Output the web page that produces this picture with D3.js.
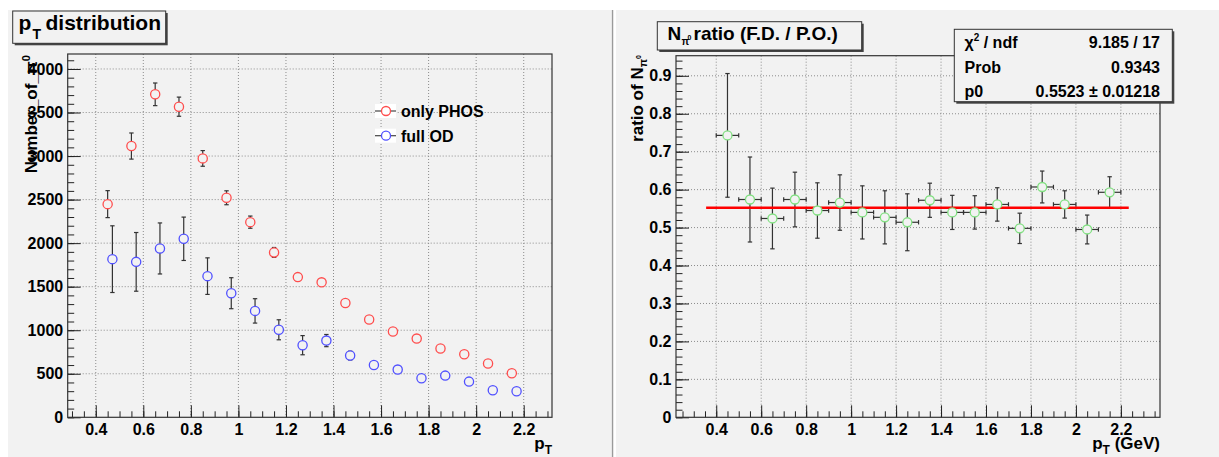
<!DOCTYPE html>
<html>
<head>
<meta charset="utf-8">
<script src="https://cdn.jsdelivr.net/npm/d3@7.9.0/dist/d3.min.js"></script>
<style>
  body { margin: 0; background: #fff; }
  svg { display: block; font-family: "Liberation Sans", Arial, Helvetica, sans-serif; font-weight: bold; }
</style>
</head>
<body>
<svg id="chart" width="1219" height="457"></svg>
<script>
// pT bin centres (GeV), 0.1 wide bins from 0.4 to 2.2
const pT = [0.45, 0.55, 0.65, 0.75, 0.85, 0.95, 1.05, 1.15, 1.25, 1.35, 1.45, 1.55, 1.65, 1.75, 1.85, 1.95, 2.05, 2.15];
// full OD graph is drawn slightly shifted to the right
const pTShifted = [0.47, 0.57, 0.67, 0.77, 0.87, 0.97, 1.07, 1.17, 1.27, 1.37, 1.47, 1.57, 1.67, 1.77, 1.87, 1.97, 2.07, 2.17];
const binHalfWidth = 0.05;

// left pad: number of pi0
const onlyPhos    = [2448, 3115, 3709, 3567, 2973, 2521, 2241, 1893, 1610, 1550, 1312, 1123, 985, 904, 790, 724, 617, 506];
const onlyPhosErr = [155, 150, 130, 110, 90, 80, 70, 57, 40, 35, 30, 28, 25, 24, 22, 20, 18, 16];
const fullOD      = [1816, 1785, 1939, 2050, 1621, 1425, 1222, 1005, 828, 881, 709, 601, 548, 448, 479, 410, 310, 299];
const fullODErr   = [383, 337, 293, 249, 210, 178, 140, 115, 110, 70, 50, 35, 25, 20, 20, 18, 15, 15];

// right pad: ratio F.D. / P.O.
const ratio    = [0.743, 0.574, 0.524, 0.574, 0.545, 0.566, 0.540, 0.527, 0.514, 0.572, 0.540, 0.540, 0.561, 0.498, 0.607, 0.561, 0.495, 0.593];
const ratioErr = [0.163, 0.112, 0.080, 0.072, 0.073, 0.073, 0.070, 0.070, 0.075, 0.045, 0.045, 0.044, 0.044, 0.040, 0.042, 0.036, 0.038, 0.041];

// constant fit
const fitP0 = 0.5523;
const fitRange = [0.355, 2.235];
const statsRows = [
  { name: 'χ', sup: '2', rest: ' / ndf', value: '9.185 / 17' },
  { name: 'Prob', value: '0.9343' },
  { name: 'p0', value: '0.5523 ± 0.01218' }
];

const legendItems = [
  { label: 'only PHOS', color: '#ff4d4d' },
  { label: 'full OD', color: '#5050ff' }
];

const xMajor = [0.4, 0.6, 0.8, 1, 1.2, 1.4, 1.6, 1.8, 2, 2.2];
const leftYMajor = [0, 500, 1000, 1500, 2000, 2500, 3000, 3500, 4000];
const rightYMajor = [0, 0.1, 0.2, 0.3, 0.4, 0.5, 0.6, 0.7, 0.8, 0.9];

const BG = '#f2f2f2';
const svg = d3.select('#chart');

// pads
svg.append('rect').attr('x', 8).attr('y', 10).attr('width', 603).attr('height', 447).attr('fill', BG);
svg.append('rect').attr('x', 616).attr('y', 10).attr('width', 603).attr('height', 447).attr('fill', BG);
svg.append('line').attr('x1', 612.5).attr('x2', 612.5).attr('y1', 10).attr('y2', 457)
  .attr('stroke', '#9a9a9a').attr('stroke-width', 1.5);

function makeFrame(box, xDomain, yDomain, yMajor, yMinorStep, yFmt) {
  const x = d3.scaleLinear().domain(xDomain).range([box.left, box.right]);
  const y = d3.scaleLinear().domain(yDomain).range([box.bottom, box.top]);
  const g = svg.append('g');

  // grid
  g.selectAll('.vg').data(xMajor).join('line')
    .attr('x1', d => x(d)).attr('x2', d => x(d)).attr('y1', box.top).attr('y2', box.bottom)
    .attr('stroke', '#8c8c8c').attr('stroke-dasharray', '1,2');
  g.selectAll('.hg').data(yMajor.filter(d => d > 0)).join('line')
    .attr('x1', box.left).attr('x2', box.right).attr('y1', d => y(d)).attr('y2', d => y(d))
    .attr('stroke', '#8c8c8c').attr('stroke-dasharray', '1,2');

  const xMinor = d3.range(Math.ceil(xDomain[0] / 0.05), Math.floor(xDomain[1] / 0.05) + 1)
    .map(i => +(i * 0.05).toFixed(2));
  const yMinor = d3.range(0, Math.floor(yDomain[1] / yMinorStep) + 1).map(i => +(i * yMinorStep).toFixed(3));

  // minor ticks
  g.append('g').attr('transform', `translate(0,${box.bottom})`)
    .call(d3.axisBottom(x).tickValues(xMinor).tickSize(-6).tickFormat(''))
    .call(a => a.select('.domain').remove());
  g.append('g').attr('transform', `translate(${box.left},0)`)
    .call(d3.axisLeft(y).tickValues(yMinor).tickSize(-6.5).tickFormat(''))
    .call(a => a.select('.domain').remove());

  // major ticks + labels
  const xa = g.append('g').attr('transform', `translate(0,${box.bottom})`)
    .call(d3.axisBottom(x).tickValues(xMajor).tickSize(-12).tickPadding(6).tickFormat(d3.format('~g')));
  const ya = g.append('g').attr('transform', `translate(${box.left},0)`)
    .call(d3.axisLeft(y).tickValues(yMajor).tickSize(-13).tickPadding(4.5).tickFormat(yFmt));
  [xa, ya].forEach(a => {
    a.select('.domain').remove();
    a.selectAll('text').attr('font-size', 16).attr('fill', '#000')
      .attr('font-family', '"Liberation Sans", Arial, sans-serif').attr('font-weight', 'bold');
  });
  g.selectAll('.tick line').attr('stroke', '#222');

  // frame
  g.append('rect').attr('x', box.left).attr('y', box.top)
    .attr('width', box.right - box.left).attr('height', box.bottom - box.top)
    .attr('fill', 'none').attr('stroke', '#333').attr('stroke-width', 1.2);

  return { x, y, g };
}

function titleBox(x0, y0, w, h) {
  svg.append('rect').attr('x', x0 + 2).attr('y', y0 + 2).attr('width', w).attr('height', h).attr('fill', '#444');
  svg.append('rect').attr('x', x0).attr('y', y0).attr('width', w).attr('height', h)
    .attr('fill', BG).attr('stroke', '#333').attr('stroke-width', 1);
}

// ---------------- left pad ----------------
const L = makeFrame({ left: 67.7, right: 552, top: 54, bottom: 417.3 },
  [0.282, 2.319], [0, 4172], leftYMajor, 100, d3.format('d'));

function drawSeries(frame, xs, ys, errs, color) {
  const { x, y, g } = frame;
  const pts = xs.map((d, i) => ({ px: d, v: ys[i], e: errs[i] }));
  const eg = g.append('g').attr('stroke', '#333').attr('stroke-width', 1.2);
  eg.selectAll('line.bar').data(pts).join('line')
    .attr('x1', d => x(d.px)).attr('x2', d => x(d.px))
    .attr('y1', d => y(d.v + d.e)).attr('y2', d => y(d.v - d.e));
  eg.selectAll('line.capt').data(pts).join('line')
    .attr('x1', d => x(d.px) - 2.2).attr('x2', d => x(d.px) + 2.2)
    .attr('y1', d => y(d.v + d.e)).attr('y2', d => y(d.v + d.e));
  eg.selectAll('line.capb').data(pts).join('line')
    .attr('x1', d => x(d.px) - 2.2).attr('x2', d => x(d.px) + 2.2)
    .attr('y1', d => y(d.v - d.e)).attr('y2', d => y(d.v - d.e));
  g.append('g').selectAll('circle').data(pts).join('circle')
    .attr('cx', d => x(d.px)).attr('cy', d => y(d.v)).attr('r', 4.6)
    .attr('fill', BG).attr('stroke', color).attr('stroke-width', 1.3);
}

drawSeries(L, pT, onlyPhos, onlyPhosErr, legendItems[0].color);
drawSeries(L, pTShifted, fullOD, fullODErr, legendItems[1].color);

// legend
const leg = svg.append('g');
legendItems.forEach((it, i) => {
  const cy = 111 + i * 24.7;
  leg.append('rect').attr('x', 375).attr('y', cy - 7).attr('width', 21).attr('height', 14).attr('fill', '#fff');
  leg.append('line').attr('x1', 375).attr('x2', 396).attr('y1', cy).attr('y2', cy)
    .attr('stroke', '#444').attr('stroke-width', 1.2);
  leg.append('circle').attr('cx', 386).attr('cy', cy).attr('r', 4.5)
    .attr('fill', '#fff').attr('stroke', it.color).attr('stroke-width', 1.3);
  leg.append('text').attr('x', 401).attr('y', cy + 6).attr('font-size', 16).text(it.label);
});

// left titles
titleBox(12.7, 11, 153, 32.3);
const lt = svg.append('text').attr('font-size', 21);
lt.append('tspan').attr('x', 18.5).attr('y', 30).text('p');
lt.append('tspan').attr('x', 32.5).attr('y', 39).attr('font-size', 14).text('T');
lt.append('tspan').attr('x', 45.5).attr('y', 30).text('distribution');

const lyt = svg.append('text').attr('font-size', 17).attr('text-anchor', 'end')
  .attr('transform', 'translate(36.5,55) rotate(-90)');
lyt.append('tspan').text('Number_of_π');
lyt.append('tspan').attr('dy', -7).attr('font-size', 11).text('0');

const lxt = svg.append('text').attr('font-size', 17).attr('text-anchor', 'end')
  .attr('transform', 'translate(552,449)');
lxt.append('tspan').text('p');
lxt.append('tspan').attr('dy', 5).attr('font-size', 12).text('T');

// ---------------- right pad ----------------
const R = makeFrame({ left: 676, right: 1160, top: 55.7, bottom: 417.3 },
  [0.221, 2.374], [0, 0.953], rightYMajor, 0.02, d3.format('~g'));

(function drawRatio() {
  const { x, y, g } = R;
  const pts = pT.map((d, i) => ({ px: d, v: ratio[i], e: ratioErr[i] }));
  const eg = g.append('g').attr('stroke', '#333').attr('stroke-width', 1.2);
  eg.selectAll('line.v').data(pts).join('line')
    .attr('x1', d => x(d.px)).attr('x2', d => x(d.px))
    .attr('y1', d => y(d.v + d.e)).attr('y2', d => y(d.v - d.e));
  eg.selectAll('line.h').data(pts).join('line')
    .attr('x1', d => x(d.px - binHalfWidth)).attr('x2', d => x(d.px + binHalfWidth))
    .attr('y1', d => y(d.v)).attr('y2', d => y(d.v));
  [1, -1].forEach(s => {
    eg.selectAll(null).data(pts).join('line')
      .attr('x1', d => x(d.px) - 2.2).attr('x2', d => x(d.px) + 2.2)
      .attr('y1', d => y(d.v + s * d.e)).attr('y2', d => y(d.v + s * d.e));
    eg.selectAll(null).data(pts).join('line')
      .attr('x1', d => x(d.px + s * binHalfWidth)).attr('x2', d => x(d.px + s * binHalfWidth))
      .attr('y1', d => y(d.v) - 2.2).attr('y2', d => y(d.v) + 2.2);
  });
  g.append('line').attr('x1', x(fitRange[0])).attr('x2', x(fitRange[1]))
    .attr('y1', y(fitP0)).attr('y2', y(fitP0)).attr('stroke', '#ff0000').attr('stroke-width', 2.5);
  g.append('g').selectAll('circle').data(pts).join('circle')
    .attr('cx', d => x(d.px)).attr('cy', d => y(d.v)).attr('r', 4.5)
    .attr('fill', BG).attr('stroke', '#80e080').attr('stroke-width', 1.3);
})();

// right title
titleBox(657.3, 21.7, 204.4, 28.3);
const rt = svg.append('text').attr('font-size', 19);
rt.append('tspan').attr('x', 667.5).attr('y', 40).text('N');
rt.append('tspan').attr('x', 681.5).attr('y', 45).attr('font-size', 10).text('π');
rt.append('tspan').attr('x', 687.5).attr('y', 40).attr('font-size', 7).text('0');
rt.append('tspan').attr('x', 693.5).attr('y', 40).text('ratio (F.D. / P.O.)');

const ryt = svg.append('text').attr('font-size', 17).attr('text-anchor', 'end')
  .attr('transform', 'translate(643,55) rotate(-90)');
ryt.append('tspan').text('ratio of N');
ryt.append('tspan').attr('dy', 4).attr('font-size', 11).text('π');
ryt.append('tspan').attr('dy', -6).attr('font-size', 7).text('0');

const rxt = svg.append('text').attr('font-size', 17).attr('text-anchor', 'end')
  .attr('transform', 'translate(1160,449)');
rxt.append('tspan').text('p');
rxt.append('tspan').attr('dy', 5).attr('font-size', 12).text('T');
rxt.append('tspan').attr('dy', -5).text(' (GeV)');

// stats box
titleBox(954.3, 29.3, 218, 72.4);
const baselines = [48.3, 72.8, 96.5];
statsRows.forEach((r, i) => {
  const t = svg.append('text').attr('x', 964.5).attr('y', baselines[i]).attr('font-size', 16);
  t.append('tspan').text(r.name);
  if (r.sup) {
    t.append('tspan').attr('dy', -7).attr('font-size', 10).text(r.sup);
    t.append('tspan').attr('dy', 7).text(r.rest);
  }
  svg.append('text').attr('x', 1160).attr('y', baselines[i]).attr('font-size', 16)
    .attr('text-anchor', 'end').text(r.value);
});
</script>
</body>
</html>
